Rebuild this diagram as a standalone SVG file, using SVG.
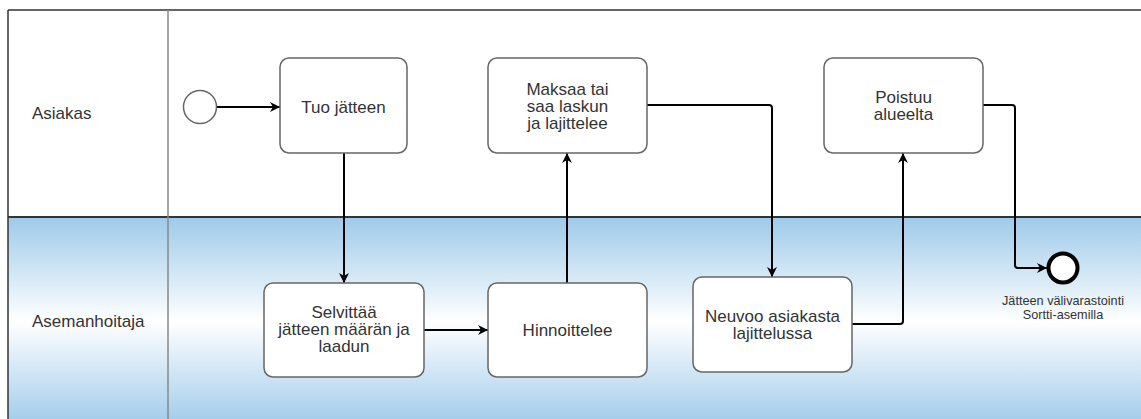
<svg xmlns="http://www.w3.org/2000/svg" width="1141" height="419" viewBox="0 0 1141 419">
<defs>
<linearGradient id="laneGrad" x1="0" y1="0" x2="0" y2="1">
<stop offset="0" stop-color="#9ecaea"/>
<stop offset="0.5" stop-color="#ffffff"/>
<stop offset="1" stop-color="#9ecaea"/>
</linearGradient>
<marker id="arrow" viewBox="0 0 10 10" refX="10" refY="5" markerWidth="10" markerHeight="10" markerUnits="userSpaceOnUse" orient="auto">
<path d="M0,0 L10,5 L0,10 L3,5 Z" fill="#000"/>
</marker>
</defs>
<style>
.task{fill:#ffffff;stroke:#666;stroke-width:1.5}
.lbl{font-family:"Liberation Sans",Arial,sans-serif;font-size:17px;fill:#333;text-anchor:middle}
.lane{font-family:"Liberation Sans",Arial,sans-serif;font-size:17px;fill:#333}
.small{font-family:"Liberation Sans",Arial,sans-serif;font-size:12.7px;fill:#333;text-anchor:middle}
.conn{fill:none;stroke:#000;stroke-width:2;stroke-linejoin:round}
</style>
<rect width="1141" height="419" fill="#ffffff"/>
<g id="lanes">
<rect x="8" y="217" width="1140" height="210" fill="url(#laneGrad)"/>
<line x1="8" y1="10" x2="1141" y2="10" stroke="#333" stroke-width="1.5"/>
<line x1="8" y1="10" x2="8" y2="419" stroke="#333" stroke-width="1.5"/>
<line x1="8" y1="217" x2="1141" y2="217" stroke="#333" stroke-width="2"/>
<line x1="168" y1="10" x2="168" y2="419" stroke="#888" stroke-width="1.5"/>
<text class="lane" x="32" y="119">Asiakas</text>
<text class="lane" x="32" y="327">Asemanhoitaja</text>
</g>
<g id="connectors">
<path class="conn" d="M217,107 L280,107" marker-end="url(#arrow)"/>
<path class="conn" d="M344,153 L344,283" marker-end="url(#arrow)"/>
<path class="conn" d="M424,330 L488,330" marker-end="url(#arrow)"/>
<path class="conn" d="M567,283 L567,153" marker-end="url(#arrow)"/>
<path class="conn" d="M647,105 L769,105 Q772,105 772,108 L772,277" marker-end="url(#arrow)"/>
<path class="conn" d="M852,324 L900,324 Q903,324 903,321 L903,153" marker-end="url(#arrow)"/>
<path class="conn" d="M983,105 L1012,105 Q1015,105 1015,108 L1015,265 Q1015,268 1018,268 L1047,268" marker-end="url(#arrow)"/>
</g>
<g id="start">
<circle cx="200" cy="107" r="16.5" fill="#fff" stroke="#666" stroke-width="1.5"/>
</g>
<g id="tuo">
<rect class="task" x="280" y="58" width="127" height="95" rx="9"/>
<text class="lbl" x="343.5" y="113">Tuo jätteen</text>
</g>
<g id="maksaa">
<rect class="task" x="488" y="58" width="159" height="95" rx="9"/>
<text class="lbl" x="567.5" y="95">Maksaa tai</text>
<text class="lbl" x="567.5" y="112">saa laskun</text>
<text class="lbl" x="567.5" y="129">ja lajittelee</text>
</g>
<g id="poistuu">
<rect class="task" x="824" y="58" width="159" height="95" rx="9"/>
<text class="lbl" x="903.5" y="103">Poistuu</text>
<text class="lbl" x="903.5" y="120">alueelta</text>
</g>
<g id="selvittaa">
<rect class="task" x="264" y="283" width="160" height="94" rx="9"/>
<text class="lbl" x="344" y="318">Selvittää</text>
<text class="lbl" x="344" y="335">jätteen määrän ja</text>
<text class="lbl" x="344" y="352">laadun</text>
</g>
<g id="hinnoittelee">
<rect class="task" x="488" y="283" width="159" height="94" rx="9"/>
<text class="lbl" x="567.5" y="336">Hinnoittelee</text>
</g>
<g id="neuvoo">
<rect class="task" x="693" y="277" width="159" height="95" rx="9"/>
<text class="lbl" x="772.5" y="322">Neuvoo asiakasta</text>
<text class="lbl" x="772.5" y="339">lajittelussa</text>
</g>
<g id="end">
<circle cx="1063" cy="268" r="14.5" fill="#fff" stroke="#000" stroke-width="4"/>
<text class="small" x="1063" y="305">Jätteen välivarastointi</text>
<text class="small" x="1063" y="319">Sortti-asemilla</text>
</g>
</svg>
